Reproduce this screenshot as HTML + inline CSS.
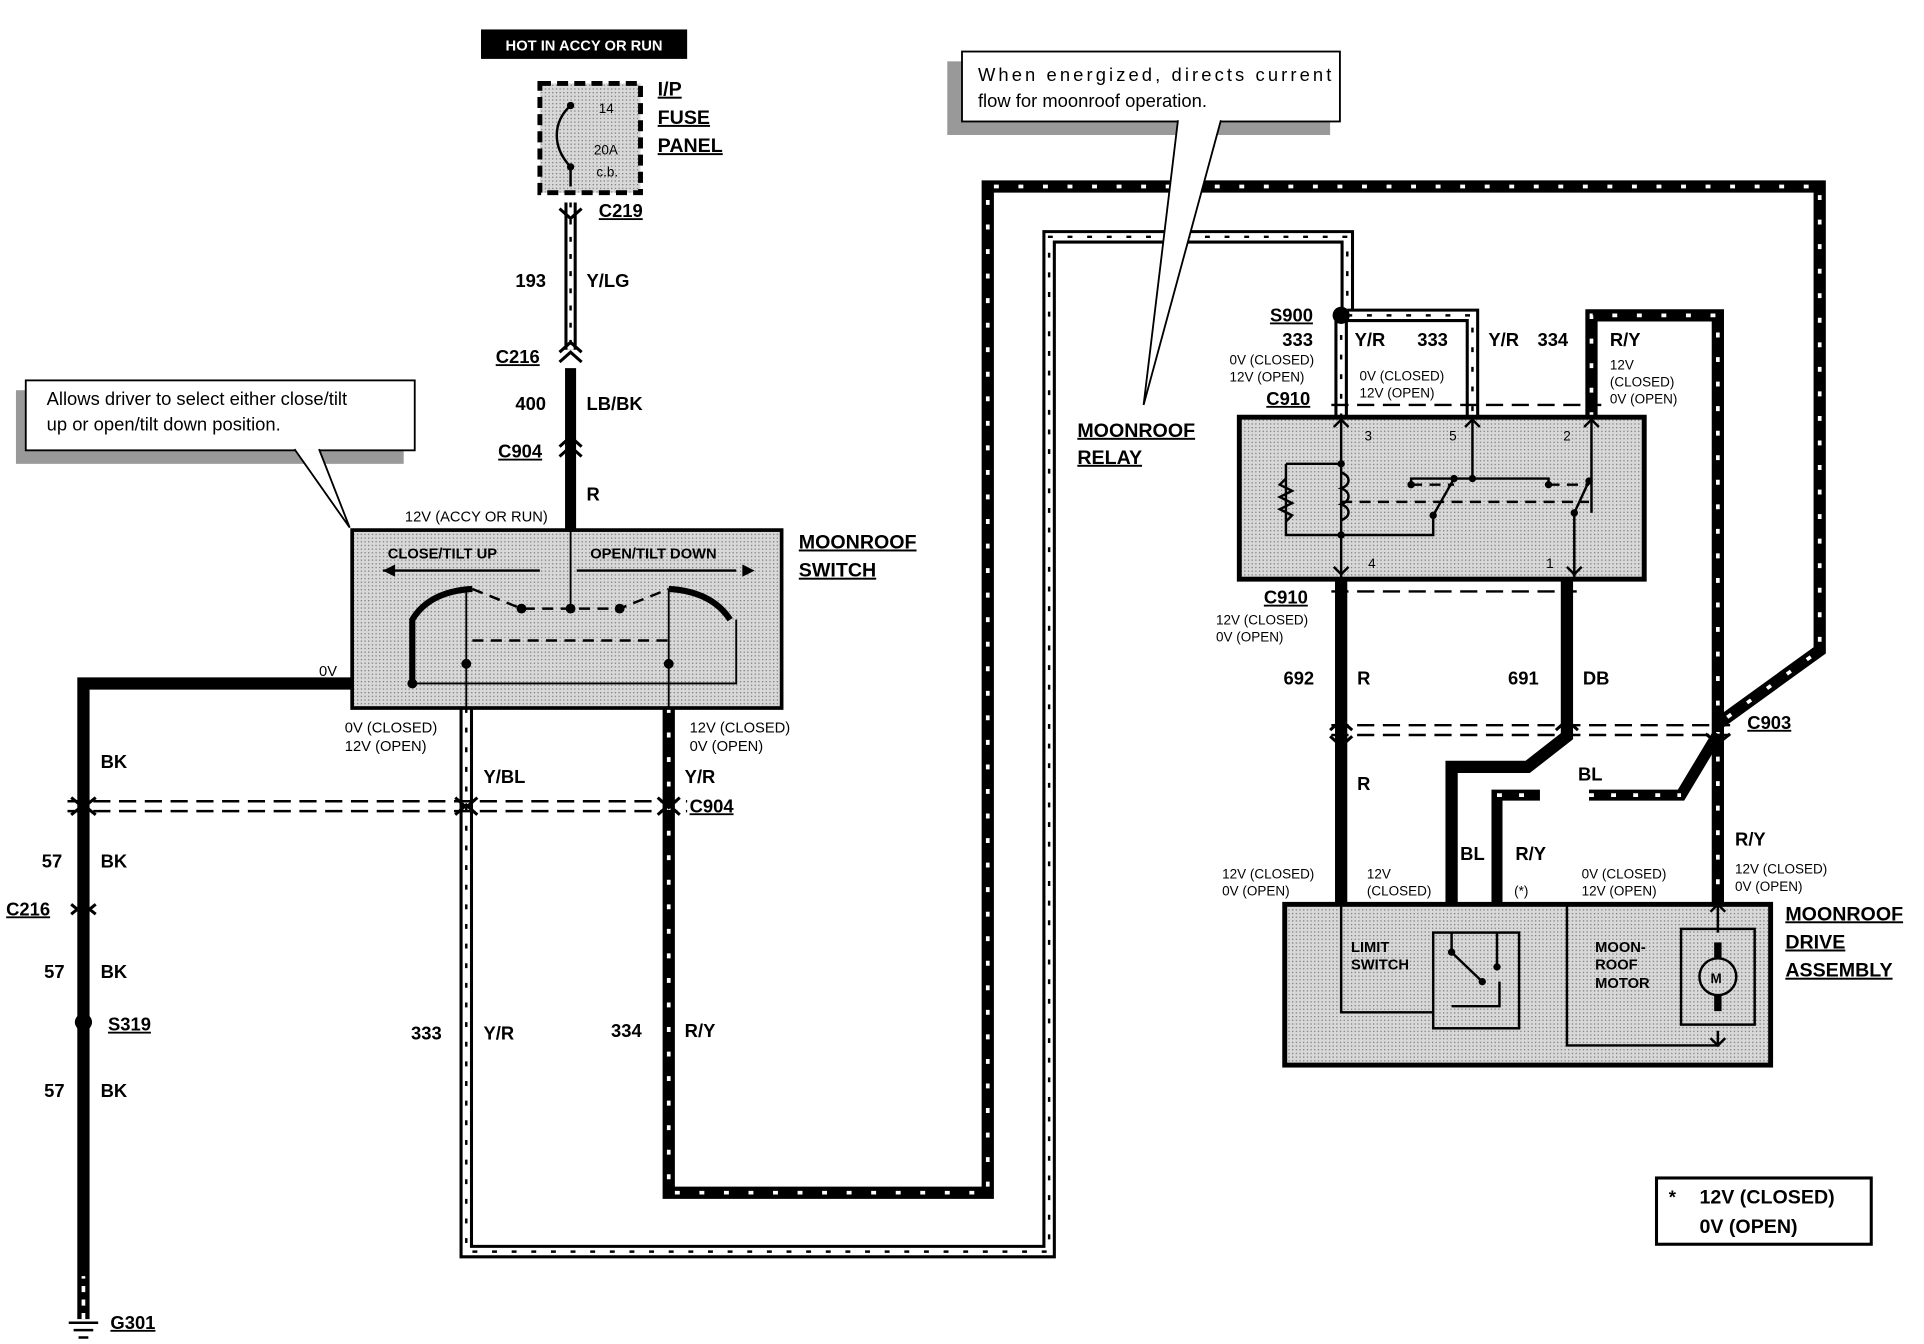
<!DOCTYPE html>
<html><head><meta charset="utf-8"><style>
html,body{margin:0;padding:0;background:#fff;width:1924px;height:1344px;overflow:hidden}
svg{display:block}
text{font-family:"Liberation Sans",Arial,sans-serif;font-weight:bold;fill:#000}
.n{font-weight:normal}
.u{text-decoration:underline}
</style></head><body>
<svg width="1924" height="1344" viewBox="0 0 1568 1095.3" preserveAspectRatio="none" xmlns="http://www.w3.org/2000/svg">
<defs>
<pattern id="dot" width="3" height="3" patternUnits="userSpaceOnUse"><rect width="3" height="3" fill="#d8d8d8"/><rect width="1" height="1" fill="#777"/></pattern>
</defs>
<g fill="none" stroke-linejoin="miter">
<!-- style B wires (white with black outline + dashes) : 333 Y/R loop -->
<path d="M380 577 V1020 H855 V193 H1098 V257" stroke="#000" stroke-width="11"/>
<path d="M380 577 V1020 H855 V193 H1098 V257" stroke="#fff" stroke-width="6"/>
<path d="M380 577 V1020 H855 V193 H1098 V257" stroke="#000" stroke-width="2" stroke-dasharray="4 12"/>
<path d="M1093 257 V340 M1098 257 H1200 V340" stroke="#000" stroke-width="11"/>
<path d="M1093 257 V340 M1098 257 H1200 V340" stroke="#fff" stroke-width="6"/>
<path d="M1093 257 V340 M1098 257 H1200 V340" stroke="#000" stroke-width="2" stroke-dasharray="4 12"/>
<!-- 193 Y/LG -->
<path d="M465 165 V285" stroke="#000" stroke-width="10"/>
<path d="M465 165 V285" stroke="#fff" stroke-width="5"/>
<path d="M465 165 V285" stroke="#000" stroke-width="2" stroke-dasharray="4 10"/>
<!-- style A wires (black with white dashes): R/Y 334 loop -->
<path d="M545 577 V972 H805 V152 H1483 V530 L1400 590 V740 M1297 340 V257 H1400 V590" stroke="#000" stroke-width="10"/>
<path d="M545 577 V972 H805 V152 H1483 V530 L1400 590 V740 M1297 340 V257 H1400 V590" stroke="#fff" stroke-width="3" stroke-dasharray="4 16"/>
<!-- solid wires -->
<path d="M465 300 V432 M465 375 V360" stroke="#000" stroke-width="9"/>
<path d="M287 557 H68 V1075" stroke="#000" stroke-width="10"/>
<path d="M68 1075 V1040" stroke="#fff" stroke-width="3" stroke-dasharray="5 6"/>
<path d="M1093 472 V740" stroke="#000" stroke-width="10"/>
<path d="M1277 472 V600 L1245 625 H1183 V760" stroke="#000" stroke-width="10"/>
<path d="M1220 760 V648 H1255" stroke="#000" stroke-width="9"/>
<path d="M1220 648 H1255" stroke="#fff" stroke-width="3" stroke-dasharray="4 14"/>
<path d="M1295 648 H1370 L1400 598" stroke="#000" stroke-width="9"/>
<path d="M1295 648 H1370" stroke="#fff" stroke-width="3" stroke-dasharray="4 14"/>
<!-- connector dashed lines -->
<path d="M55 653 H560 M55 661 H560" stroke="#000" stroke-width="2" stroke-dasharray="14 7"/>
<path d="M1085 591 H1410 M1085 599 H1410" stroke="#000" stroke-width="2" stroke-dasharray="14 7"/>
<path d="M1085 330 H1305 M1085 482 H1285" stroke="#000" stroke-width="2" stroke-dasharray="14 7"/>
<!-- connector chevrons -->
<path d="M456 170 L465 178 L474 170 M456 287 L465 279 L474 287 M456 295 L465 287 L474 295 M456 364 L465 356 L474 364 M456 372 L465 364 L474 372 M58 650 L68 658 L78 650 M58 664 L68 656 L78 664 M371 650 L380 658 L389 650 M371 664 L380 656 L389 664 M536 650 L545 658 L554 650 M536 664 L545 656 L554 664 M58 737 L68 745 L78 737 M58 745 L68 737 L78 745 M1084 595 L1093 587 L1102 595 M1084 600 L1093 608 L1102 600 M1268 595 L1277 587 L1286 595 M1390 598 L1400 606 L1410 598" stroke="#000" stroke-width="2.5"/>
</g>
<circle cx="68" cy="833" r="7"/>
<circle cx="1093" cy="257" r="7"/>
<!-- HOT label -->
<rect x="392" y="24" width="168" height="24" fill="#000"/>
<text x="476" y="41" font-size="12" text-anchor="middle" style="fill:#fff">HOT IN ACCY OR RUN</text>
<!-- fuse -->
<rect x="440" y="68" width="82" height="89" fill="url(#dot)" stroke="#000" stroke-width="4" stroke-dasharray="9 5"/>
<path d="M465 86 C450 100 450 120 465 136 V152" stroke="#000" stroke-width="2" fill="none"/>
<circle cx="465" cy="86" r="3"/><circle cx="465" cy="136" r="3"/>
<text x="488" y="92" font-size="11" class="n">14</text>
<text x="484" y="126" font-size="11" class="n">20A</text>
<text x="486" y="144" font-size="11" class="n">c.b.</text>
<text x="536" y="78" font-size="16" class="u">I/P</text>
<text x="536" y="101" font-size="16" class="u">FUSE</text>
<text x="536" y="124" font-size="16" class="u">PANEL</text>
<text x="488" y="177" font-size="15" class="u">C219</text>
<text x="420" y="234" font-size="15">193</text><text x="478" y="234" font-size="15">Y/LG</text>
<text x="404" y="296" font-size="15" class="u">C216</text>
<text x="420" y="334" font-size="15">400</text><text x="478" y="334" font-size="15">LB/BK</text>
<text x="406" y="373" font-size="15" class="u">C904</text>
<text x="478" y="408" font-size="15">R</text>
<text x="330" y="425" font-size="12" class="n">12V (ACCY OR RUN)</text>
<!-- callout 1 -->
<rect x="13" y="318" width="316" height="60" fill="#999"/>
<rect x="21" y="310" width="317" height="57" fill="#fff" stroke="#000" stroke-width="1.5"/>
<path d="M240 366 L285 430 L260 366" fill="#fff" stroke="#000" stroke-width="1.5"/>
<text x="38" y="330" font-size="15" class="n">Allows driver to select either close/tilt</text>
<text x="38" y="351" font-size="15" class="n">up or open/tilt down position.</text>
<!-- switch -->
<rect x="287" y="432" width="350" height="145" fill="url(#dot)" stroke="#000" stroke-width="3"/>
<path d="M465 432 V498" stroke="#000" stroke-width="1.5"/>
<text x="316" y="455" font-size="12">CLOSE/TILT UP</text>
<text x="481" y="455" font-size="12">OPEN/TILT DOWN</text>
<path d="M312 465 H440 M600 465 H470" stroke="#000" stroke-width="2"/>
<path d="M312 465 l10 -5 v10z M615 465 l-10 -5 v10z"/>
<path d="M336 557 V505 Q350 482 385 480 M595 505 Q580 482 545 480" fill="none" stroke="#000" stroke-width="5"/>
<path d="M380 480 V577 M545 480 V577 M336 557 H600 V505" fill="none" stroke="#000" stroke-width="1.5"/>
<path d="M385 480 L425 496 H505 L545 480 M385 522 H545" fill="none" stroke="#000" stroke-width="2" stroke-dasharray="9 6"/>
<circle cx="425" cy="496" r="4"/><circle cx="465" cy="496" r="4"/><circle cx="505" cy="496" r="4"/>
<circle cx="336" cy="557" r="4"/><circle cx="380" cy="541" r="4"/><circle cx="545" cy="541" r="4"/>
<text x="651" y="447" font-size="16" class="u">MOONROOF</text>
<text x="651" y="470" font-size="16" class="u">SWITCH</text>
<text x="260" y="551" font-size="12" class="n">0V</text>
<text x="281" y="597" font-size="12" class="n">0V (CLOSED)</text><text x="281" y="612" font-size="12" class="n">12V (OPEN)</text>
<text x="562" y="597" font-size="12" class="n">12V (CLOSED)</text><text x="562" y="612" font-size="12" class="n">0V (OPEN)</text>
<text x="394" y="638" font-size="15">Y/BL</text><text x="558" y="638" font-size="15">Y/R</text>
<text x="562" y="662" font-size="15" class="u">C904</text>
<text x="82" y="626" font-size="15">BK</text>
<text x="34" y="707" font-size="15">57</text><text x="82" y="707" font-size="15">BK</text>
<text x="5" y="746" font-size="15" class="u">C216</text>
<text x="36" y="797" font-size="15">57</text><text x="82" y="797" font-size="15">BK</text>
<text x="88" y="840" font-size="15" class="u">S319</text>
<text x="36" y="894" font-size="15">57</text><text x="82" y="894" font-size="15">BK</text>
<path d="M56 1078 H80 M60 1084 H76 M64 1090 H72" stroke="#000" stroke-width="2"/>
<text x="90" y="1083" font-size="15" class="u">G301</text>
<text x="335" y="847" font-size="15">333</text><text x="394" y="847" font-size="15">Y/R</text>
<text x="498" y="845" font-size="15">334</text><text x="558" y="845" font-size="15">R/Y</text>
<!-- callout 2 -->
<rect x="772" y="50" width="312" height="60" fill="#999"/>
<rect x="784" y="42" width="308" height="57" fill="#fff" stroke="#000" stroke-width="1.5"/>
<path d="M960 98 L932 330 L995 98" fill="#fff" stroke="#000" stroke-width="1.5"/>
<text x="797" y="66" font-size="15" class="n" textLength="288">When energized, directs current</text>
<text x="797" y="87" font-size="15" class="n">flow for moonroof operation.</text>
<text x="878" y="356" font-size="16" class="u">MOONROOF</text>
<text x="878" y="378" font-size="16" class="u">RELAY</text>
<!-- relay labels -->
<text x="1035" y="262" font-size="15" class="u">S900</text>
<text x="1045" y="282" font-size="15">333</text><text x="1104" y="282" font-size="15">Y/R</text>
<text x="1155" y="282" font-size="15">333</text><text x="1213" y="282" font-size="15">Y/R</text><text x="1253" y="282" font-size="15">334</text>
<text x="1312" y="282" font-size="15">R/Y</text>
<text x="1002" y="297" font-size="11" class="n">0V (CLOSED)</text><text x="1002" y="311" font-size="11" class="n">12V (OPEN)</text>
<text x="1108" y="310" font-size="11" class="n">0V (CLOSED)</text><text x="1108" y="324" font-size="11" class="n">12V (OPEN)</text>
<text x="1312" y="301" font-size="11" class="n">12V</text><text x="1312" y="315" font-size="11" class="n">(CLOSED)</text><text x="1312" y="329" font-size="11" class="n">0V (OPEN)</text>
<text x="1032" y="330" font-size="15" class="u">C910</text>
<!-- relay -->
<rect x="1010" y="340" width="330" height="132" fill="url(#dot)" stroke="#000" stroke-width="4"/>
<g fill="none" stroke="#000" stroke-width="2">
<path d="M1093 340 V472 M1200 340 V390 M1297 340 V418 M1283 418 V472"/>
<path d="M1048 378 H1093 M1048 378 V436 H1093 M1093 436 H1168 V420 L1185 390 M1283 418 L1295 392 M1150 395 V390 H1262 V395"/>
<path d="M1048 390 l-5 5 l10 5 l-10 5 l10 5 l-10 5 l10 5 l-5 5"/>
<path d="M1093 385 c8 3 8 10 0 13 c8 3 8 10 0 13 c8 3 8 10 0 13"/>
<path d="M1093 409 H1295 M1150 395 H1185 M1262 395 H1295" stroke-dasharray="9 6"/>
<path d="M1087 348 L1093 342 L1099 348 M1194 348 L1200 342 L1206 348 M1291 348 L1297 342 L1303 348 M1087 462 L1093 468 L1099 462 M1277 462 L1283 468 L1289 462"/>
</g>
<circle cx="1093" cy="378" r="3"/><circle cx="1093" cy="436" r="3"/><circle cx="1200" cy="390" r="3"/><circle cx="1150" cy="395" r="3"/><circle cx="1262" cy="395" r="3"/><circle cx="1185" cy="390" r="3"/><circle cx="1295" cy="392" r="3"/><circle cx="1168" cy="420" r="3"/><circle cx="1283" cy="418" r="3"/>
<text x="1112" y="359" font-size="11" class="n">3</text><text x="1181" y="359" font-size="11" class="n">5</text><text x="1274" y="359" font-size="11" class="n">2</text><text x="1115" y="463" font-size="11" class="n">4</text><text x="1260" y="463" font-size="11" class="n">1</text>
<text x="1030" y="492" font-size="15" class="u">C910</text>
<text x="991" y="509" font-size="11" class="n">12V (CLOSED)</text><text x="991" y="523" font-size="11" class="n">0V (OPEN)</text>
<text x="1046" y="558" font-size="15">692</text><text x="1106" y="558" font-size="15">R</text>
<text x="1229" y="558" font-size="15">691</text><text x="1290" y="558" font-size="15">DB</text>
<text x="1424" y="594" font-size="15" class="u">C903</text>
<text x="1106" y="644" font-size="15">R</text>
<text x="1286" y="636" font-size="15">BL</text>
<text x="1190" y="701" font-size="15">BL</text><text x="1235" y="701" font-size="15">R/Y</text>
<text x="1414" y="689" font-size="15">R/Y</text>
<text x="996" y="716" font-size="11" class="n">12V (CLOSED)</text><text x="996" y="730" font-size="11" class="n">0V (OPEN)</text>
<text x="1114" y="716" font-size="11" class="n">12V</text><text x="1114" y="730" font-size="11" class="n">(CLOSED)</text>
<text x="1234" y="730" font-size="11" class="n">(*)</text>
<text x="1289" y="716" font-size="11" class="n">0V (CLOSED)</text><text x="1289" y="730" font-size="11" class="n">12V (OPEN)</text>
<text x="1414" y="712" font-size="11" class="n">12V (CLOSED)</text><text x="1414" y="726" font-size="11" class="n">0V (OPEN)</text>
<!-- drive assembly -->
<rect x="1047" y="737" width="396" height="131" fill="url(#dot)" stroke="#000" stroke-width="4"/>
<g fill="none" stroke="#000" stroke-width="2">
<path d="M1277 737 V852 H1400 V840 M1400 737 V760 M1093 737 V825 H1168"/>
<rect x="1168" y="760" width="70" height="78"/>
<rect x="1370" y="757" width="60" height="78"/>
<circle cx="1400" cy="796" r="15"/>
<path d="M1183 760 V776 L1208 800 M1220 760 V788 M1183 776 M1183 820 H1222 V800"/>
<path d="M1394 743 L1400 737 L1406 743 M1394 846 L1400 852 L1406 846"/>
</g>
<rect x="1397" y="768" width="6" height="13"/><rect x="1397" y="811" width="6" height="13"/>
<circle cx="1183" cy="776" r="3"/><circle cx="1220" cy="788" r="3"/><circle cx="1208" cy="800" r="3"/>
<text x="1394" y="801" font-size="11">M</text>
<text x="1101" y="776" font-size="12">LIMIT</text><text x="1101" y="790" font-size="12">SWITCH</text>
<text x="1300" y="776" font-size="12">MOON-</text><text x="1300" y="790" font-size="12">ROOF</text><text x="1300" y="805" font-size="12">MOTOR</text>
<text x="1455" y="750" font-size="16" class="u">MOONROOF</text>
<text x="1455" y="773" font-size="16" class="u">DRIVE</text>
<text x="1455" y="796" font-size="16" class="u">ASSEMBLY</text>
<!-- legend -->
<rect x="1350" y="960" width="175" height="54" fill="#fff" stroke="#000" stroke-width="2.5"/>
<text x="1360" y="981" font-size="15">*</text>
<text x="1385" y="981" font-size="16">12V (CLOSED)</text>
<text x="1385" y="1005" font-size="16">0V (OPEN)</text>
</svg>
</body></html>
